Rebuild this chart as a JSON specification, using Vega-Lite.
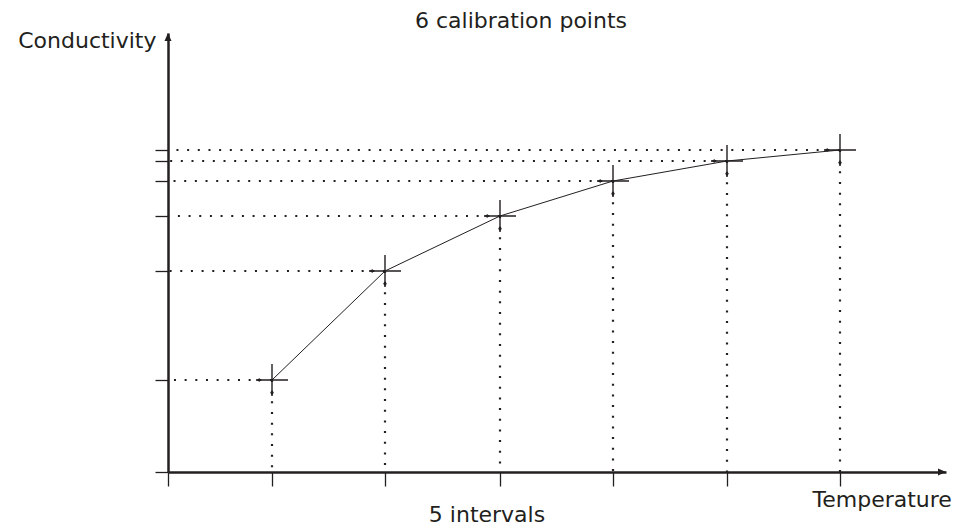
{
  "$schema": "https://vega.github.io/schema/vega-lite/v6.json",
  "width": 778,
  "height": 439,
  "autosize": {"type": "none"},
  "padding": {"left": 168, "top": 33, "right": 26, "bottom": 56},
  "background": "white",
  "config": {"view": {"stroke": null}, "font": "DejaVu Sans"},
  "datasets": {
    "pts": [
      {"t": 104, "c": 92},
      {"t": 217, "c": 201},
      {"t": 332, "c": 256},
      {"t": 445, "c": 291},
      {"t": 559, "c": 311},
      {"t": 672, "c": 322}
    ]
  },
  "layer": [
    {
      "data": {"name": "pts"},
      "mark": {"type": "line", "stroke": "#231f20", "strokeWidth": 1},
      "encoding": {
        "x": {"field": "t", "type": "quantitative", "scale": {"domain": [0, 778], "nice": false, "zero": false},
          "axis": {"values": [0, 104, 217, 332, 445, 559, 672], "labels": false, "tickSize": 14, "tickWidth": 1.3, "tickColor": "#231f20", "domainColor": "#231f20", "domainWidth": 2.5, "grid": false,
            "title": "Temperature", "titleX": 644, "titleY": 34, "titleAlign": "left", "titleBaseline": "alphabetic", "titleFontSize": 22, "titleFontWeight": "normal", "titleColor": "#231f20", "titleFont": "DejaVu Sans"}},
        "y": {"field": "c", "type": "quantitative", "scale": {"domain": [0, 439], "nice": false, "zero": false},
          "axis": {"values": [0, 92, 201, 256, 291, 311, 322], "labels": false, "tickSize": 13, "tickWidth": 1.3, "tickColor": "#231f20", "domainColor": "#231f20", "domainWidth": 2.5, "grid": false,
            "title": "Conductivity", "titleAngle": 0, "titleX": -12, "titleY": 14, "titleAlign": "right", "titleBaseline": "alphabetic", "titleFontSize": 22, "titleFontWeight": "normal", "titleColor": "#231f20", "titleFont": "DejaVu Sans"}}
      }
    },
    {
      "data": {"name": "pts"},
      "mark": {"type": "rule", "stroke": "#231f20", "strokeWidth": 2.2, "strokeDash": [2, 8.67]},
      "encoding": {
        "x": {"field": "t", "type": "quantitative"},
        "x2": {"datum": 0},
        "y": {"field": "c", "type": "quantitative"}
      }
    },
    {
      "data": {"name": "pts"},
      "mark": {"type": "rule", "stroke": "#231f20", "strokeWidth": 2.2, "strokeDash": [2, 8.67]},
      "encoding": {
        "x": {"field": "t", "type": "quantitative"},
        "y": {"field": "c", "type": "quantitative"},
        "y2": {"datum": 0}
      }
    },
    {
      "data": {"name": "pts"},
      "mark": {"type": "point", "shape": "M-1,0H1M0,-1V1", "size": 1024, "filled": false, "stroke": "#231f20", "strokeWidth": 1.4, "opacity": 1},
      "encoding": {
        "x": {"field": "t", "type": "quantitative"},
        "y": {"field": "c", "type": "quantitative"}
      }
    },
    {
      "data": {"name": "pts"},
      "mark": {"type": "point", "shape": "triangle-down", "size": 16, "filled": true, "fill": "#231f20", "opacity": 1, "yOffset": 14},
      "encoding": {
        "x": {"field": "t", "type": "quantitative"},
        "y": {"field": "c", "type": "quantitative"}
      }
    },
    {
      "data": {"name": "pts"},
      "mark": {"type": "point", "shape": "triangle-left", "size": 16, "filled": true, "fill": "#231f20", "opacity": 1, "xOffset": -14},
      "encoding": {
        "x": {"field": "t", "type": "quantitative"},
        "y": {"field": "c", "type": "quantitative"}
      }
    },
    {
      "data": {"values": [{"ax": "y"}]},
      "mark": {"type": "point", "shape": "M0,0L-0.7,1.6L0.7,1.6Z", "size": 100, "filled": true, "fill": "#231f20", "opacity": 1},
      "encoding": {
        "x": {"datum": 0, "type": "quantitative"},
        "y": {"datum": 439, "type": "quantitative"}
      }
    },
    {
      "data": {"values": [{"ax": "x"}]},
      "mark": {"type": "point", "shape": "M0,0L-1.6,-0.7L-1.6,0.7Z", "size": 100, "filled": true, "fill": "#231f20", "opacity": 1},
      "encoding": {
        "x": {"datum": 778, "type": "quantitative"},
        "y": {"datum": 0, "type": "quantitative"}
      }
    },
    {
      "data": {"values": [{"label": "5 intervals"}]},
      "mark": {"type": "text", "align": "center", "baseline": "alphabetic", "fontSize": 22, "font": "DejaVu Sans", "fill": "#231f20"},
      "encoding": {
        "x": {"datum": 319, "type": "quantitative"},
        "y": {"datum": -50, "type": "quantitative"},
        "text": {"field": "label", "type": "nominal"}
      }
    },
    {
      "data": {"values": [{"label": "6 calibration points"}]},
      "mark": {"type": "text", "align": "center", "baseline": "alphabetic", "fontSize": 22, "font": "DejaVu Sans", "fill": "#231f20"},
      "encoding": {
        "x": {"datum": 353, "type": "quantitative"},
        "y": {"datum": 444, "type": "quantitative"},
        "text": {"field": "label", "type": "nominal"}
      }
    }
  ]
}
